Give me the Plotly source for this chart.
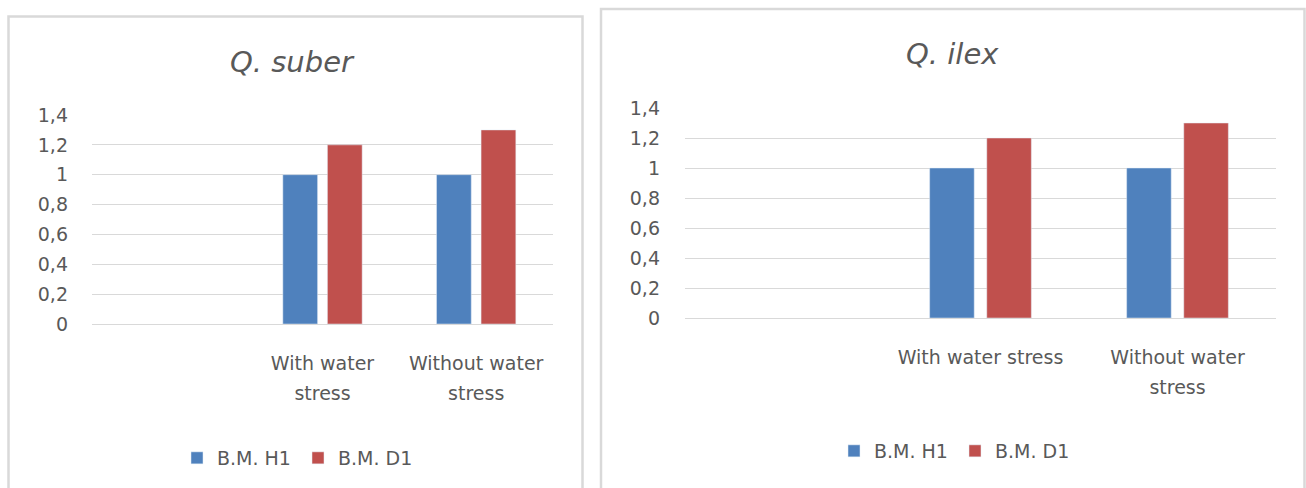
import plotly.graph_objects as go

# Data
categories = ["With water stress", "Without water stress"]
suber_labels = ["With water<br>stress", "Without water<br>stress"]
ilex_labels = ["With water stress", "Without water<br>stress"]
series_names = ["B.M. H1", "B.M. D1"]
suber_h1 = [1.0, 1.0]
suber_d1 = [1.2, 1.3]
ilex_h1 = [1.0, 1.0]
ilex_d1 = [1.2, 1.3]

BLUE = "#4F81BD"
RED = "#C0504D"
GREY_TXT = "#595959"
GRID = "#D9D9D9"
FONT = "DejaVu Sans"

W, H = 1306, 488


def px(v):
    return v / W


def py(v):
    return (H - v) / H


def wrap(label, size=19):
    # Larger base font sets the line pitch, inner span sets the glyph size
    return f'<span style="font-size:{size}px">{label}</span>'


fig = go.Figure()

panels = [
    ("x", "y", "legend", suber_h1, suber_d1),
    ("x2", "y2", "legend2", ilex_h1, ilex_d1),
]
for xa, ya, lg, h1, d1 in panels:
    fig.add_trace(go.Bar(x=categories, y=h1, name=series_names[0],
                         marker_color=BLUE, xaxis=xa, yaxis=ya, legend=lg))
    fig.add_trace(go.Bar(x=categories, y=d1, name=series_names[1],
                         marker_color=RED, xaxis=xa, yaxis=ya, legend=lg))

common_x = dict(
    type="category", categoryarray=categories, range=[-1.5, 1.5],
    showgrid=False, zeroline=False, showline=False, ticks="",
    tickfont=dict(family=FONT, size=23, color=GREY_TXT),
    tickvals=categories, ticklabelstandoff=22, automargin=False,
)
common_y = dict(
    range=[0, 1.4], dtick=0.2, tick0=0, showgrid=True, gridcolor=GRID,
    gridwidth=1.3, zeroline=True, zerolinecolor=GRID, zerolinewidth=1.3,
    showline=False, ticks="", tickfont=dict(family=FONT, size=19, color=GREY_TXT),
    automargin=False,
)

legend_style = dict(orientation="h", xanchor="center", yanchor="middle",
                    font=dict(family=FONT, size=19, color=GREY_TXT),
                    bgcolor="rgba(0,0,0,0)", entrywidth=76,
                    entrywidthmode="pixels")

fig.update_layout(
    width=W, height=H,
    margin=dict(l=0, r=0, t=0, b=0, pad=0, autoexpand=False),
    paper_bgcolor="white", plot_bgcolor="white",
    separators=", ",
    barmode="group", bargap=0.42, bargroupgap=0.22,
    font=dict(family=FONT, color=GREY_TXT),
    xaxis=dict(common_x, domain=[px(92), px(553)], anchor="y",
               ticktext=[wrap(t) for t in suber_labels]),
    yaxis=dict(common_y, domain=[py(324), py(115)], anchor="x",
               ticklabelstandoff=23),
    xaxis2=dict(common_x, domain=[px(685), px(1276)], anchor="y2",
                ticktext=[wrap(t) for t in ilex_labels]),
    yaxis2=dict(common_y, domain=[py(318), py(108)], anchor="x2",
                ticklabelstandoff=24),
    legend=dict(legend_style, x=px(298), y=py(458)),
    legend2=dict(legend_style, x=px(955), y=py(451)),
    showlegend=True,
)


def open_frame(x0, x1, top):
    # Frame running off the bottom edge: left, top and right sides only
    return (f"M {px(x0)},0 L {px(x0)},{py(top)} "
            f"L {px(x1)},{py(top)} L {px(x1)},0")


fig.add_shape(type="path", xref="paper", yref="paper",
              path=open_frame(8.5, 582.5, 16.5),
              line=dict(color="#D9D9D9", width=2.5), layer="below")
fig.add_shape(type="path", xref="paper", yref="paper",
              path=open_frame(601, 1304.5, 9),
              line=dict(color="#D9D9D9", width=2.5), layer="below")

# Panel titles
fig.add_annotation(text="<i>Q. suber</i>", x=px(292), y=py(62), xref="paper",
                   yref="paper", showarrow=False, xanchor="center", yanchor="middle",
                   font=dict(family=FONT, size=29, color=GREY_TXT))
fig.add_annotation(text="<i>Q. ilex</i>", x=px(952), y=py(54), xref="paper",
                   yref="paper", showarrow=False, xanchor="center", yanchor="middle",
                   font=dict(family=FONT, size=29, color=GREY_TXT))

fig.write_html("out.html")
